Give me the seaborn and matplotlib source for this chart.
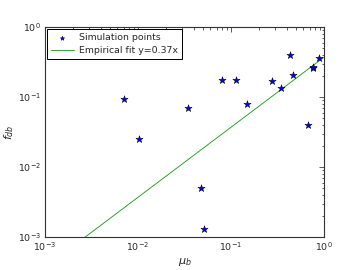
import numpy as np
import pandas as pd
import matplotlib
matplotlib.use("Agg")
import matplotlib.pyplot as plt
import seaborn as sns

mu_b = [0.00706, 0.0348, 0.0103, 0.080, 0.113, 0.431, 0.278, 0.465, 0.348,
        0.150, 0.755, 0.77, 0.889, 0.678, 0.0472, 0.0508]
f_db = [0.0936, 0.0703, 0.0251, 0.175, 0.177, 0.402, 0.168, 0.208, 0.133,
        0.080, 0.257, 0.27, 0.357, 0.0394, 0.00506, 0.0013]
fit_slope = 0.37
fit_x = [1e-3, 1.0]
fit_y = [fit_slope * v for v in fit_x]

sns.set_style("white")
plt.rcParams['font.family'] = ['DejaVu Sans']
plt.rcParams['mathtext.fontset'] = 'dejavusans'

fig = plt.figure(figsize=(4, 3), dpi=90)
ax = fig.add_axes([0.125, 0.122, 0.775, 0.778])

pts = pd.DataFrame({"mu": mu_b, "f": f_db})
fit = pd.DataFrame({"mu": fit_x, "f": fit_y})

sns.scatterplot(data=pts, x="mu", y="f", ax=ax, marker="*", s=36,
                color="#0000ff", edgecolor="black", linewidth=0.4,
                label="Simulation points", zorder=3)
sns.lineplot(data=fit, x="mu", y="f", ax=ax, color="#1a9a1a", linewidth=0.7,
             label="Empirical fit y=0.37x", zorder=2)

ax.set_xscale("log")
ax.set_yscale("log")
ax.set_xlim(1e-3, 1)
ax.set_ylim(1e-3, 1)
ax.set_xlabel(r"$\mu_b$", fontsize=9, labelpad=2)
ax.set_ylabel(r"$f_{db}$", fontsize=9, labelpad=2)

for s in ax.spines.values():
    s.set_color("#333333")
    s.set_linewidth(0.9)
    s.set_visible(True)

ax.tick_params(which="both", direction="in", top=True, right=True,
               labelsize=7.5, color="black", pad=3)
ax.tick_params(which="major", length=4, width=0.5)
ax.tick_params(which="minor", length=2, width=0.5)
ax.grid(False)

leg = ax.legend(loc="upper left", fontsize=7.5, frameon=True, fancybox=False,
                edgecolor="black", framealpha=1, borderaxespad=0.25,
                handlelength=2.4, scatterpoints=1, borderpad=0.4,
                labelspacing=0.45, handletextpad=0.6, markerscale=0.6)
leg.get_frame().set_linewidth(0.8)

fig.savefig("out.png", dpi=90, facecolor="white")
